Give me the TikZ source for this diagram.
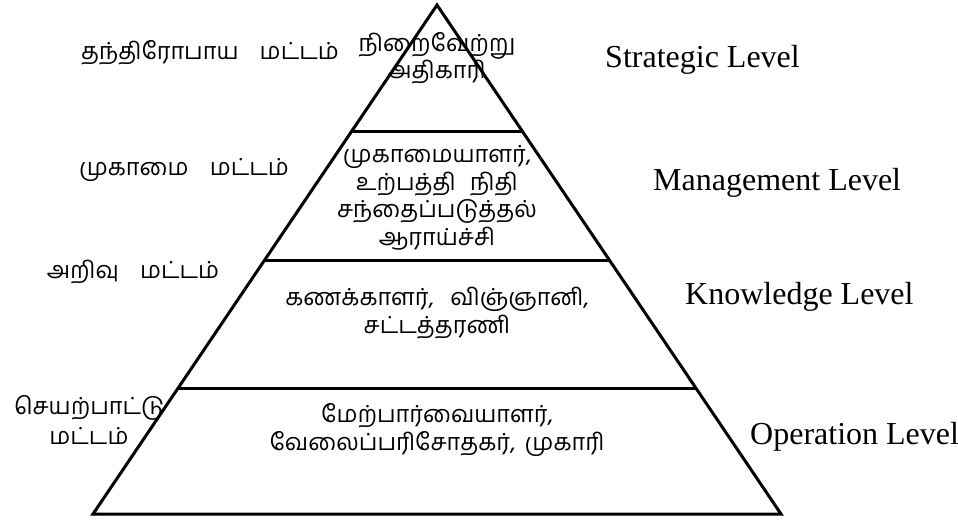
\documentclass[tikz,border=0pt]{standalone}
\usepackage{fontspec}
\setmainfont{Liberation Serif}
\newfontfamily\tafont[Script=Tamil]{Hind Madurai}
\usetikzlibrary{calc}
\tikzset{
  edge/.style={line width=3pt, line join=miter, line cap=round},
  ta/.style={inner sep=0pt, align=center, font=\tafont\fontsize{23.5}{27.5}\selectfont},
  en/.style={inner sep=0pt, anchor=west, font=\fontsize{32}{36}\selectfont}
}
\begin{document}
\begin{tikzpicture}[x=1pt,y=-1pt]
  \useasboundingbox (0,0) rectangle (958,523);
  % pyramid outline
  \coordinate (A) at (437,5);
  \coordinate (BL) at (93,514);
  \coordinate (BR) at (781,514);
  \coordinate (L1) at ($(A)!0.2495!(BL)$);
  \coordinate (R1) at ($(A)!0.2495!(BR)$);
  \coordinate (L2) at ($(A)!0.501!(BL)$);
  \coordinate (R2) at ($(A)!0.501!(BR)$);
  \coordinate (L3) at ($(A)!0.7525!(BL)$);
  \coordinate (R3) at ($(A)!0.7525!(BR)$);
  \draw[edge] (A) -- (BL) -- (BR) -- cycle;
  \draw[edge] (L1) -- (R1);
  \draw[edge] (L2) -- (R2);
  \draw[edge] (L3) -- (R3);

  % level names (Tamil, left)
  \node[ta] (t1) at (210,53) {தந்திரோபாய\hspace{0.9em}மட்டம்};
  \node[ta] (t2) at (184,170) {முகாமை\hspace{0.9em}மட்டம்};
  \node[ta] (t3) at (133,272) {அறிவு\hspace{0.9em}மட்டம்};
  \node[ta] (t4) at (89,420) {செயற்பாட்டு\\[3pt]மட்டம்};

  % occupations inside the layers
  \node[ta] (p1) at (437,58) {நிறைவேற்று\\அதிகாரி};
  \node[ta] (p2) at (437,198) {முகாமையாளர்,\\உற்பத்தி\hspace{0.6em}நிதி\\சந்தைப்படுத்தல்\\ஆராய்ச்சி};
  \node[ta] (p3) at (437,313) {கணக்காளர்,\hspace{0.7em}விஞ்ஞானி,\\சட்டத்தரணி};
  \node[ta] (p4) at (437,430) {மேற்பார்வையாளர்,\\வேலைப்பரிசோதகர்,\hspace{0.4em}முகாரி};

  % level names (English, right)
  \node[en] (e1) at (605,60) {Strategic Level};
  \node[en] (e2) at (653,183) {Management Level};
  \node[en] (e3) at (685,297) {Knowledge Level};
  \node[en] (e4) at (750,437) {Operation Level};
\end{tikzpicture}
\end{document}
